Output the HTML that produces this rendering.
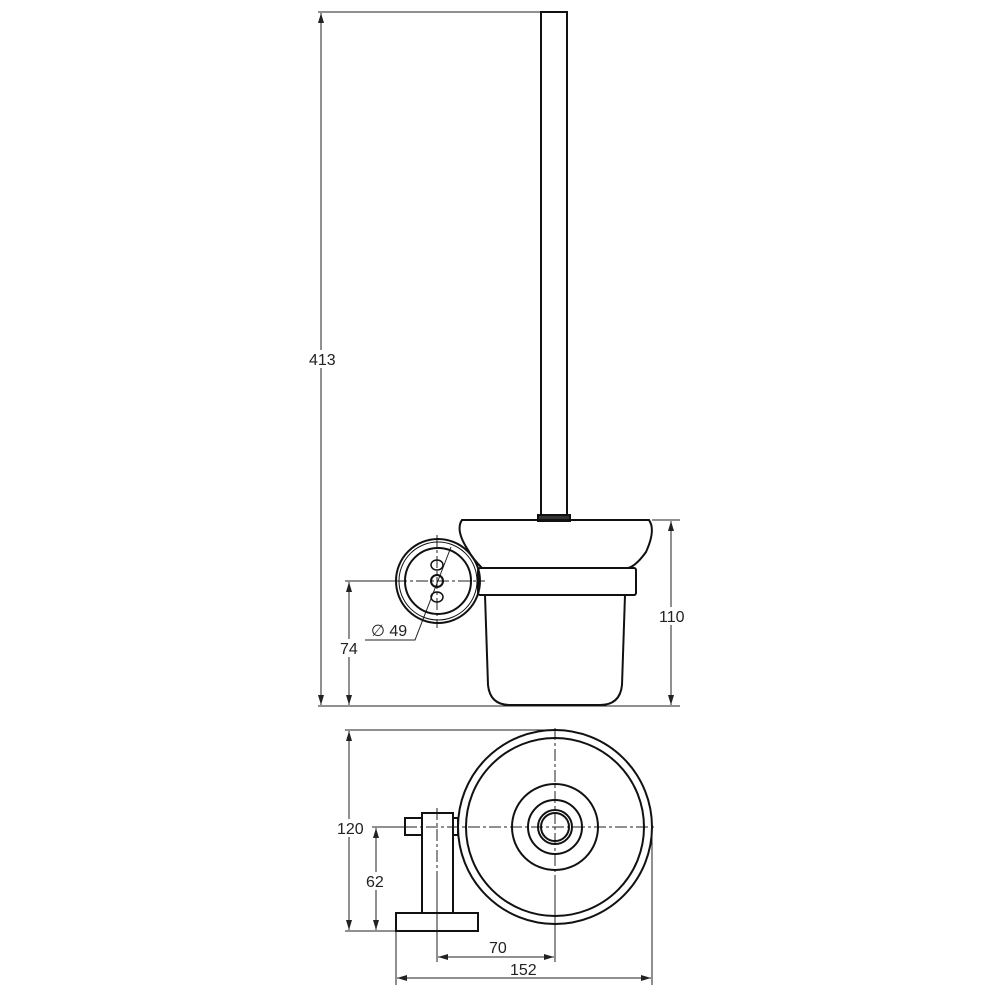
<!DOCTYPE html>
<html><head><style>body{margin:0;background:#fff}svg{display:block}</style></head><body>
<svg width="1000" height="1000" viewBox="0 0 1000 1000" xmlns="http://www.w3.org/2000/svg" font-family="Liberation Sans, sans-serif">
<defs>
<marker id="a" viewBox="0 0 10 6" refX="10" refY="3" markerWidth="10" markerHeight="6" orient="auto-start-reverse" markerUnits="userSpaceOnUse"><path d="M0,0L10,3L0,6z" fill="#222"/></marker>
</defs>
<g fill="none" stroke="#222" stroke-width="1">
<line x1="318" y1="12" x2="541" y2="12"/>
<line x1="318" y1="706" x2="680" y2="706"/>
<line x1="652" y1="520" x2="680" y2="520"/>
<line x1="345" y1="581" x2="402" y2="581"/>
<line x1="345" y1="730" x2="555" y2="730"/>
<line x1="345" y1="931" x2="396" y2="931"/>
<line x1="372" y1="827" x2="405" y2="827"/>
<line x1="396" y1="931" x2="396" y2="985"/>
<line x1="652" y1="827" x2="652" y2="985"/>
<line x1="437" y1="880" x2="437" y2="962"/>
<line x1="555" y1="880" x2="555" y2="962"/>
<line x1="321" y1="13" x2="321" y2="705" marker-start="url(#a)" marker-end="url(#a)"/>
<line x1="671" y1="521" x2="671" y2="705" marker-start="url(#a)" marker-end="url(#a)"/>
<line x1="349" y1="582" x2="349" y2="705" marker-start="url(#a)" marker-end="url(#a)"/>
<line x1="349" y1="731" x2="349" y2="930" marker-start="url(#a)" marker-end="url(#a)"/>
<line x1="376" y1="828" x2="376" y2="930" marker-start="url(#a)" marker-end="url(#a)"/>
<line x1="438" y1="957" x2="554" y2="957" marker-start="url(#a)" marker-end="url(#a)"/>
<line x1="397" y1="978" x2="651" y2="978" marker-start="url(#a)" marker-end="url(#a)"/>
<polyline points="365,640 415,640 451,547"/>
<g stroke-dasharray="12,3,3,3">
<line x1="395" y1="581" x2="485" y2="581"/>
<line x1="437" y1="535" x2="437" y2="628"/>
<line x1="405" y1="827" x2="655" y2="827"/>
<line x1="555" y1="728" x2="555" y2="930"/>
<line x1="437" y1="808" x2="437" y2="935"/>
</g>
</g>
<g fill="none" stroke="#111" stroke-width="2">
<rect x="541" y="12" width="26" height="503"/>
<rect x="538" y="515" width="32" height="6" fill="#333"/>
<path d="M462,520 L649,520 Q656,530 646,552 Q636,566 628,568 L482,568 Q472,558 468,550 Q455,530 462,520Z"/>
<rect x="478" y="568" width="158" height="27" rx="2"/>
<path d="M485,595 L488,685 Q490,705 510,705 L600,705 Q620,705 622,685 L625,595"/>
<circle cx="438" cy="581" r="42"/>
<circle cx="438" cy="581" r="39" stroke-width="1"/>
<circle cx="438" cy="581" r="33"/>
<circle cx="437" cy="581" r="6"/>
<ellipse cx="437" cy="565" rx="6" ry="5" stroke-width="1.5"/>
<ellipse cx="437" cy="597" rx="6" ry="5" stroke-width="1.5"/>
<circle cx="555" cy="827" r="97"/>
<circle cx="555" cy="827" r="89"/>
<circle cx="555" cy="827" r="43"/>
<circle cx="555" cy="827" r="27"/>
<circle cx="555" cy="827" r="17"/>
<circle cx="555" cy="827" r="14"/>
<rect x="396" y="913" width="82" height="18"/>
<rect x="422" y="813" width="31" height="100"/>
<rect x="405" y="818" width="17" height="17"/>
<rect x="453" y="818" width="5" height="17"/>
</g>
<g fill="#fff">
<rect x="309" y="350" width="26" height="18"/>
<rect x="659" y="607" width="26" height="18"/>
<rect x="340" y="639" width="18" height="18"/>
<rect x="337" y="819" width="26" height="18"/>
<rect x="366" y="872" width="18" height="18"/>
</g>
<g font-size="16" fill="#222">
<text x="309" y="365">413</text>
<text x="659" y="622">110</text>
<text x="340" y="654">74</text>
<text x="371" y="636">∅ 49</text>
<text x="337" y="834">120</text>
<text x="366" y="887">62</text>
<text x="489" y="953">70</text>
<text x="510" y="975">152</text>
</g>
</svg>
</body></html>
